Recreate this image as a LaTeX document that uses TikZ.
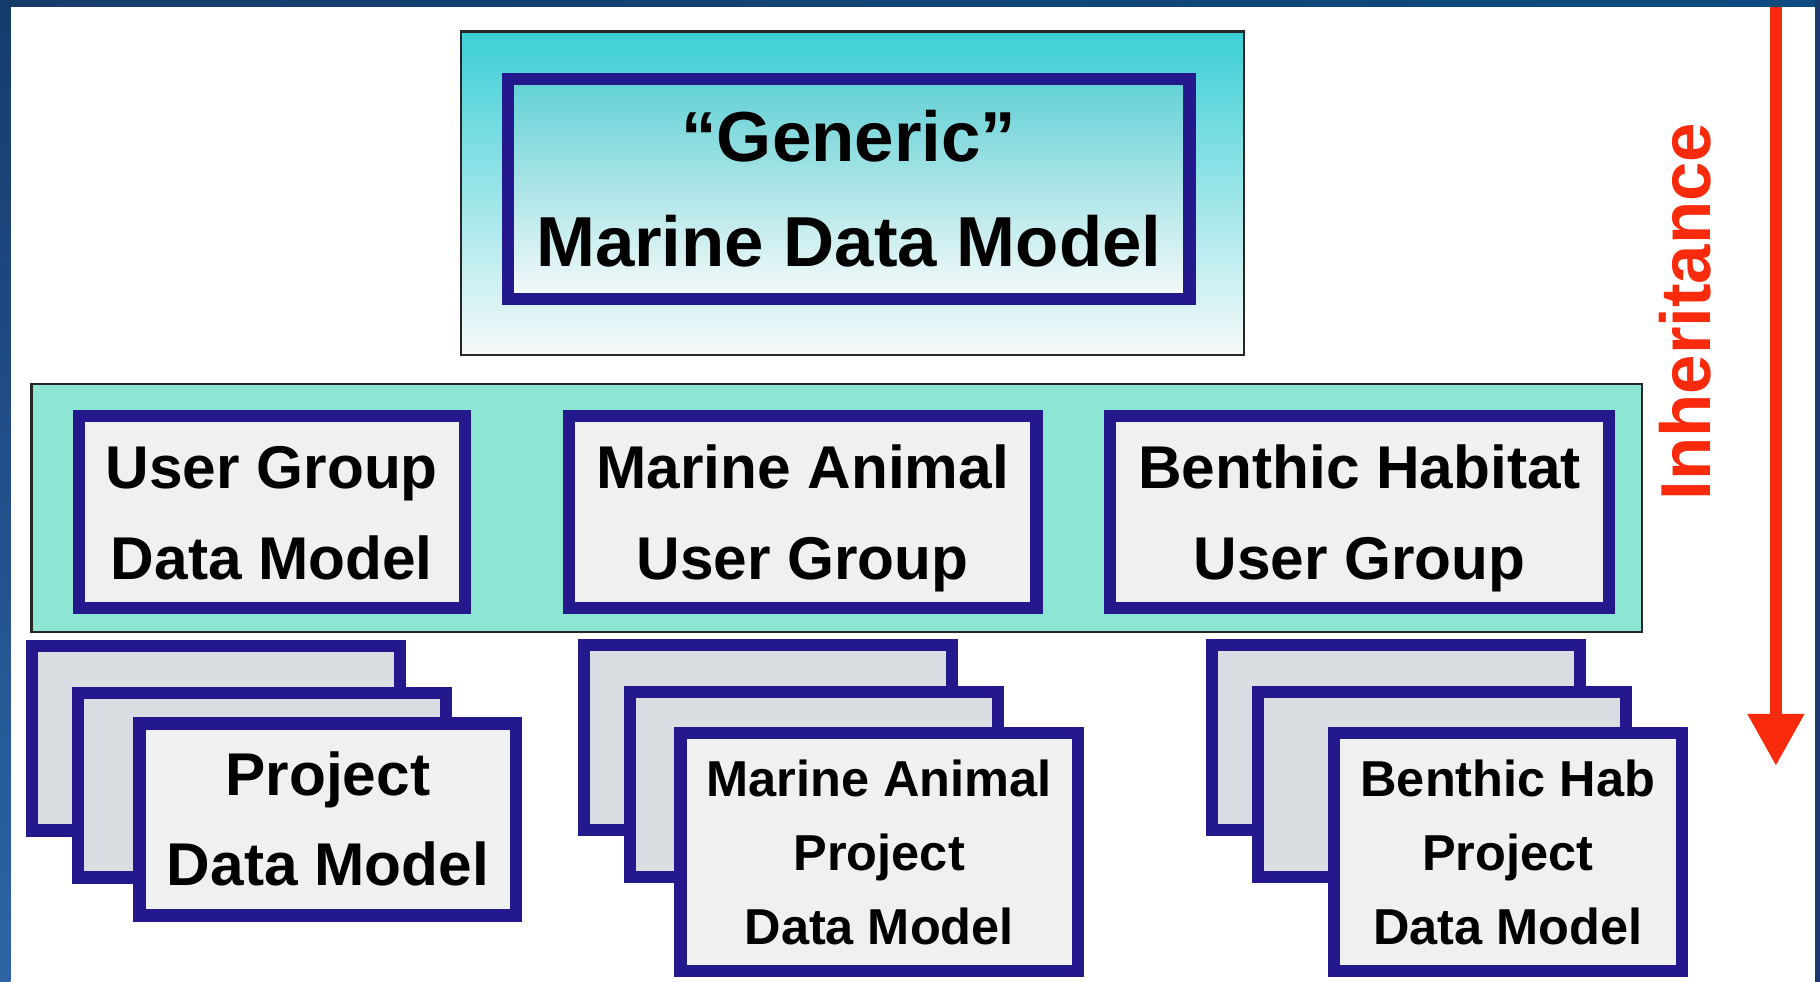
\documentclass[tikz,border=0pt]{standalone}
\usepackage{fontspec}
\setmainfont{Liberation Sans}
\usetikzlibrary{arrows.meta}

\definecolor{navy}{RGB}{35,25,140}
\definecolor{mint}{RGB}{141,229,212}
\definecolor{teal}{RGB}{60,207,214}
\definecolor{tealsoft}{RGB}{96,208,213}
\definecolor{haze}{RGB}{247,250,250}
\definecolor{paper}{RGB}{240,240,240}
\definecolor{sheet}{RGB}{217,222,226}
\definecolor{arrowred}{RGB}{250,42,12}
\definecolor{edgedark}{RGB}{22,60,108}
\definecolor{edgemid}{RGB}{44,100,166}
\definecolor{edgetop}{RGB}{12,76,128}

\begin{document}
\begin{tikzpicture}[x=1pt,y=-1pt,
  thinframe/.style={draw=black!85, line width=2pt, inner sep=0pt, outer sep=0pt},
  navybox/.style={draw=navy, line width=10.5pt, inner sep=0pt, outer sep=0pt},
  frontbox/.style={navybox, fill=paper},
  backbox/.style={navybox, fill=sheet, minimum width=317pt, minimum height=159pt},
  bigtxt/.style={inner sep=0pt, anchor=base, font=\fontsize{61}{70}\selectfont\bfseries},
  midtxt/.style={inner sep=0pt, anchor=base, font=\fontsize{52}{60}\selectfont\bfseries},
  smalltxt/.style={inner sep=0pt, anchor=base, font=\fontsize{43.5}{50}\selectfont\bfseries},
  redtxt/.style={inner sep=0pt, anchor=base, rotate=90, text=arrowred,
                 font=\fontsize{61}{70}\selectfont\bfseries}]

\useasboundingbox (0,0) rectangle (1568,846);
\fill[white] (0,0) rectangle (1568,846);

% ---- top level: generic model ----
\node[thinframe, top color=teal, bottom color=haze,
      minimum width=674.6pt, minimum height=278.5pt] (generic) at (734.5,166.5) {};
\node[navybox, top color=tealsoft, bottom color=haze,
      minimum width=587pt, minimum height=189.7pt] (genericcore) at (731.3,162.7) {};
\node[bigtxt] (genericA) at (731.3,139.5) {“Generic”};
\node[bigtxt] (genericB) at (731.3,230) {Marine Data Model};

% ---- second level: user group models ----
\node[thinframe, fill=mint, minimum width=1387.6pt, minimum height=213.3pt] (band) at (721,437.6) {};

\node[frontbox, minimum width=332.2pt, minimum height=165.6pt] (ugA) at (234.2,441.3) {};
\node[frontbox, minimum width=403pt,   minimum height=165.6pt] (ugB) at (691.5,441.3) {};
\node[frontbox, minimum width=429.4pt, minimum height=165.6pt] (ugC) at (1171.3,441.3) {};

\node[midtxt] (ugA1) at (234.2,421) {User Group};
\node[midtxt] (ugA2) at (234.2,499) {Data Model};
\node[midtxt] (ugB1) at (691.5,421) {Marine Animal};
\node[midtxt] (ugB2) at (691.5,499) {User Group};
\node[midtxt] (ugC1) at (1171.3,421) {Benthic Habitat};
\node[midtxt] (ugC2) at (1171.3,499) {User Group};

% ---- third level: stacks of project models ----
\node[backbox] (pjA1) at (186,636) {};
\node[backbox] (pjA2) at (226,676.5) {};
\node[frontbox, minimum width=324.5pt, minimum height=165.5pt] (pjA3) at (282.5,706) {};
\node[midtxt] (pjAt1) at (282.5,685) {Project};
\node[midtxt] (pjAt2) at (282.5,763) {Data Model};

\node[backbox] (pjB1) at (661.5,635.5) {};
\node[backbox] (pjB2) at (701,676) {};
\node[frontbox, minimum width=342.5pt, minimum height=205.5pt] (pjB3) at (757.5,734) {};
\node[smalltxt] (pjBt1) at (757.5,686) {Marine Animal};
\node[smalltxt] (pjBt2) at (757.5,750) {Project};
\node[smalltxt] (pjBt3) at (757.5,814) {Data Model};

\node[backbox] (pjC1) at (1203,635.5) {};
\node[backbox] (pjC2) at (1242,676) {};
\node[frontbox, minimum width=299.5pt, minimum height=205.5pt] (pjC3) at (1299,734) {};
\node[smalltxt] (pjCt1) at (1299,686) {Benthic Hab};
\node[smalltxt] (pjCt2) at (1299,750) {Project};
\node[smalltxt] (pjCt3) at (1299,814) {Data Model};

% ---- inheritance arrow ----
\coordinate (inhTop) at (1530,0);
\coordinate (inhTip) at (1530,660);
\draw[arrowred, line width=11pt, -{Triangle[width=46pt,length=45pt]}] (inhTop) -- (inhTip);
\node[redtxt] (inhLabel) at (1474,268.5) {Inheritance};

% ---- slide edges ----
\shade[top color=edgedark, bottom color=edgemid] (0,0) rectangle (9,846);
\shade[left color=edgedark, right color=edgetop] (0,0) rectangle (1568,6);
\fill[edgedark] (1564,0) rectangle (1568,846);
\end{tikzpicture}
\end{document}
